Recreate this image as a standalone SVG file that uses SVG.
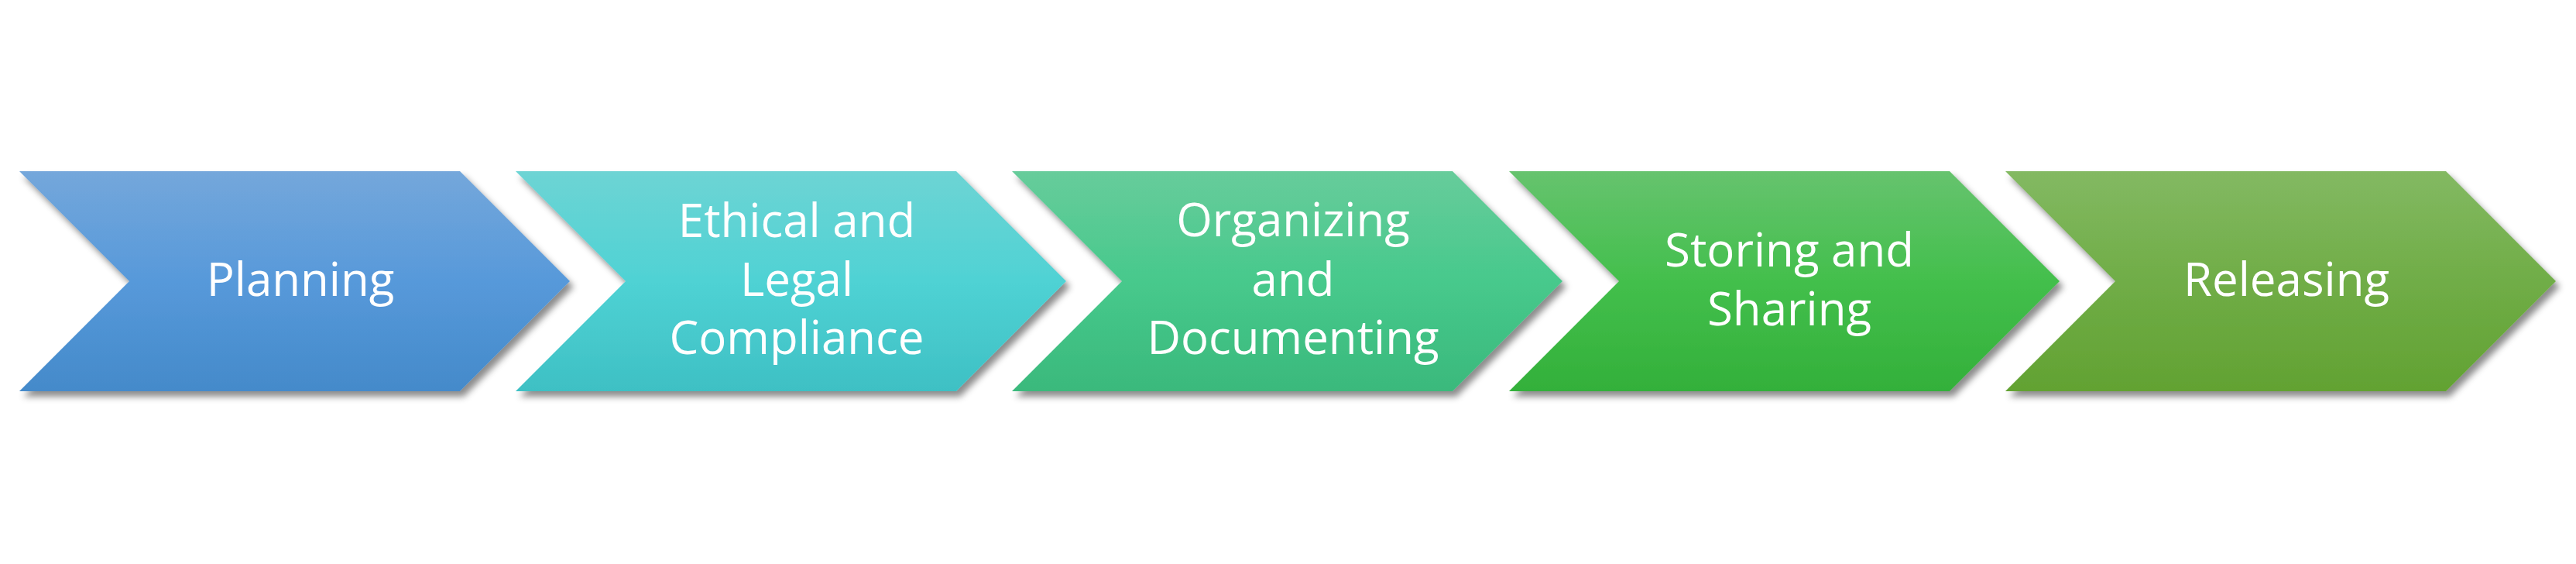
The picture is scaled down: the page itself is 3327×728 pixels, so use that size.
<svg xmlns="http://www.w3.org/2000/svg" width="3327" height="728" viewBox="0 0 3327 728">
<defs>
<filter id="sh" x="-5%" y="-10%" width="115%" height="130%">
<feDropShadow dx="5" dy="7" stdDeviation="4" flood-color="#000" flood-opacity="0.45"/>
</filter>
<linearGradient id="g1" x1="0" y1="0" x2="0" y2="1"><stop offset="0" stop-color="#74A7DB"/><stop offset="0.5" stop-color="#5799DA"/><stop offset="1" stop-color="#448ACA"/></linearGradient>
<linearGradient id="g2" x1="0" y1="0" x2="0" y2="1"><stop offset="0" stop-color="#6DD4D4"/><stop offset="0.5" stop-color="#4FD2D4"/><stop offset="1" stop-color="#3EC0C4"/></linearGradient>
<linearGradient id="g3" x1="0" y1="0" x2="0" y2="1"><stop offset="0" stop-color="#67CC9B"/><stop offset="0.5" stop-color="#47C98C"/><stop offset="1" stop-color="#3AB97C"/></linearGradient>
<linearGradient id="g4" x1="0" y1="0" x2="0" y2="1"><stop offset="0" stop-color="#66C36E"/><stop offset="0.5" stop-color="#43BF4C"/><stop offset="1" stop-color="#33B03A"/></linearGradient>
<linearGradient id="g5" x1="0" y1="0" x2="0" y2="1"><stop offset="0" stop-color="#83B962"/><stop offset="0.5" stop-color="#70AD47"/><stop offset="1" stop-color="#62A232"/></linearGradient>
<path id="chev" d="M0,221 H569 L711,363 L569,505 H0 L142,363 Z"/>
</defs>
<style>
.lbl{font-family:"Open Sans","Noto Sans","Liberation Sans",sans-serif;font-size:60px;fill:#fff;text-anchor:middle}
</style>
<rect width="3327" height="728" fill="#fff"/>
<g id="connectors"/>
<g id="n1">
<use href="#chev" x="25" fill="url(#g1)" filter="url(#sh)"/>
<text class="lbl" x="388" y="382">Planning</text>
</g>
<g id="n2">
<use href="#chev" x="666" fill="url(#g2)" filter="url(#sh)"/>
<text class="lbl" x="1029" y="306">Ethical and</text>
<text class="lbl" x="1029" y="382">Legal</text>
<text class="lbl" x="1029" y="457">Compliance</text>
</g>
<g id="n3">
<use href="#chev" x="1307" fill="url(#g3)" filter="url(#sh)"/>
<text class="lbl" x="1670" y="305">Organizing</text>
<text class="lbl" x="1670" y="382">and</text>
<text class="lbl" x="1670" y="457">Documenting</text>
</g>
<g id="n4">
<use href="#chev" x="1949" fill="url(#g4)" filter="url(#sh)"/>
<text class="lbl" x="2311" y="344">Storing and</text>
<text class="lbl" x="2311" y="420">Sharing</text>
</g>
<g id="n5">
<use href="#chev" x="2590" fill="url(#g5)" filter="url(#sh)"/>
<text class="lbl" x="2953" y="382">Releasing</text>
</g>
</svg>
